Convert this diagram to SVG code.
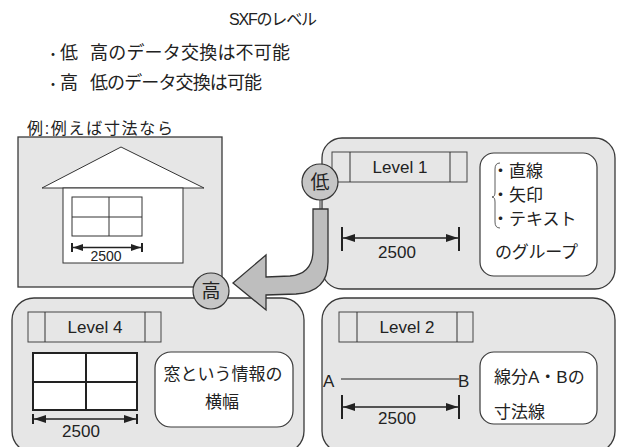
<svg xmlns="http://www.w3.org/2000/svg" width="621" height="447" viewBox="0 0 621 447">
  <style>
    text { font-family: "Liberation Sans", "Noto Sans CJK JP", sans-serif; fill: #222; }
    .panel { fill: #e6e6e6; stroke: #3a3a3a; stroke-width: 1.3; }
    .bar { fill: #e6e6e6; stroke: #444; stroke-width: 1; }
    .note { fill: #fff; stroke: #3a3a3a; stroke-width: 1.2; }
    .thin { fill: none; stroke: #333; stroke-width: 1; }
    .dim { stroke: #222; stroke-width: 1.3; fill: none; }
    .tick { stroke: #222; stroke-width: 2; }
    .badge { fill: #c6c6c6; stroke: #333; stroke-width: 1.2; }
    .lbl { font-size: 17px; text-anchor: middle; }
    .num { font-size: 17px; text-anchor: middle; }
    .jp { font-size: 17px; }
  </style>
  <defs>
    <marker id="tip" viewBox="0 0 12 8" refX="12" refY="4" markerWidth="12" markerHeight="8" markerUnits="userSpaceOnUse" orient="auto-start-reverse">
      <path d="M0,0 L12,4 L0,8 z" fill="#222"/>
    </marker>
    <marker id="tipS" viewBox="0 0 10 7" refX="10" refY="3.5" markerWidth="10" markerHeight="7" markerUnits="userSpaceOnUse" orient="auto-start-reverse">
      <path d="M0,0 L10,3.5 L0,7 z" fill="#222"/>
    </marker>
  </defs>

  <!-- heading and notes -->
  <g id="heading">
    <text x="229" y="25" font-size="16" textLength="88">SXFのレベル</text>
    <text x="46" y="59" font-size="14">・</text>
    <text x="60" y="59" font-size="18">低</text>
    <text x="90" y="59" font-size="18" textLength="200">高のデータ交換は不可能</text>
    <text x="46" y="89" font-size="14">・</text>
    <text x="60" y="89" font-size="18">高</text>
    <text x="90" y="89" font-size="18" textLength="172">低のデータ交換は可能</text>
    <text x="27" y="134" font-size="16" textLength="146">例:例えば寸法なら</text>
  </g>

  <!-- example: house with a window -->
  <g id="house">
    <rect class="panel" x="18" y="137" width="204" height="150"/>
    <polygon points="121,147 42,188 204,188" fill="#fff" stroke="#333" stroke-width="1"/>
    <rect x="63" y="188" width="120" height="75" fill="#fff" stroke="#333" stroke-width="1"/>
    <rect x="72" y="197" width="70" height="39" fill="#fff" stroke="#333" stroke-width="1"/>
    <line class="thin" x1="109" y1="197" x2="109" y2="236"/>
    <line class="thin" x1="72" y1="217" x2="142" y2="217"/>
    <line class="tick" x1="72" y1="243" x2="72" y2="252"/>
    <line class="tick" x1="142" y1="243" x2="142" y2="252"/>
    <line class="dim" x1="73" y1="247.5" x2="141" y2="247.5" marker-start="url(#tipS)" marker-end="url(#tipS)"/>
    <text x="106" y="261" font-size="14" text-anchor="middle">2500</text>
  </g>

  <!-- Level 1 -->
  <g id="level1">
    <rect class="panel" x="322" y="138" width="293" height="151" rx="20"/>
    <rect class="bar" x="332" y="152" width="135" height="30"/>
    <line class="thin" x1="350" y1="152" x2="350" y2="182"/>
    <line class="thin" x1="450" y1="152" x2="450" y2="182"/>
    <text class="lbl" x="400" y="173">Level 1</text>
    <line class="tick" x1="342" y1="227" x2="342" y2="251"/>
    <line class="tick" x1="459" y1="227" x2="459" y2="251"/>
    <line class="dim" x1="343" y1="238" x2="458" y2="238" marker-start="url(#tip)" marker-end="url(#tip)"/>
    <text class="num" x="397" y="258">2500</text>
    <rect class="note" x="480" y="153" width="117" height="123" rx="14"/>
    <path d="M500,163 Q495,163 495,169 L495,192 Q495,197 492,197 Q495,197 495,202 L495,222 Q495,228 500,228" fill="none" stroke="#333" stroke-width="0.8"/>
    <text class="jp" x="492" y="177">・直線</text>
    <text class="jp" x="492" y="201">・矢印</text>
    <text class="jp" x="492" y="225">・テキスト</text>
    <text class="jp" x="495" y="258" textLength="83">のグループ</text>
  </g>

  <!-- Level 4 -->
  <g id="level4">
    <rect class="panel" x="12" y="298" width="292" height="155" rx="22"/>
    <rect class="bar" x="28" y="312" width="133" height="30"/>
    <line class="thin" x1="45" y1="312" x2="45" y2="342"/>
    <line class="thin" x1="145" y1="312" x2="145" y2="342"/>
    <text class="lbl" x="95" y="333">Level 4</text>
    <rect x="33" y="353" width="104" height="57" fill="#fff" stroke="#222" stroke-width="2"/>
    <line x1="86" y1="353" x2="86" y2="410" stroke="#222" stroke-width="2"/>
    <line x1="33" y1="382" x2="137" y2="382" stroke="#222" stroke-width="2"/>
    <line class="tick" x1="33" y1="414" x2="33" y2="424"/>
    <line class="tick" x1="137" y1="414" x2="137" y2="424"/>
    <line class="dim" x1="34" y1="419" x2="136" y2="419" marker-start="url(#tip)" marker-end="url(#tip)"/>
    <text class="num" x="81" y="437">2500</text>
    <rect class="note" x="155" y="352" width="138" height="75" rx="16"/>
    <text class="jp" x="223" y="380" text-anchor="middle">窓という情報の</text>
    <text class="jp" x="222" y="408" text-anchor="middle">横幅</text>
  </g>

  <!-- Level 2 -->
  <g id="level2">
    <rect class="panel" x="322" y="298" width="293" height="155" rx="22"/>
    <rect class="bar" x="339" y="312" width="134" height="30"/>
    <line class="thin" x1="357" y1="312" x2="357" y2="342"/>
    <line class="thin" x1="457" y1="312" x2="457" y2="342"/>
    <text class="lbl" x="407" y="333">Level 2</text>
    <text class="jp" x="323" y="387">A</text>
    <text class="jp" x="458" y="387">B</text>
    <line x1="341" y1="379" x2="459" y2="379" stroke="#222" stroke-width="1.2"/>
    <line class="tick" x1="342" y1="395" x2="342" y2="419"/>
    <line class="tick" x1="459" y1="395" x2="459" y2="419"/>
    <line class="dim" x1="343" y1="407" x2="458" y2="407" marker-start="url(#tip)" marker-end="url(#tip)"/>
    <text class="num" x="397" y="424">2500</text>
    <rect class="note" x="480" y="352" width="117" height="72" rx="14"/>
    <text class="jp" x="494" y="383">線分A・Bの</text>
    <text class="jp" x="494" y="418">寸法線</text>
  </g>

  <!-- flow from low level to high level -->
  <g id="connectors">
    <line x1="320" y1="200" x2="320" y2="209" stroke="#333" stroke-width="1"/>
    <path d="M313,209 L328,209 L328,262 Q328,292 296,294 L266,295 L266,310 L233,283 L266,255 L266,277 L290,276 Q313,274 313,250 Z" fill="#bebebe" stroke="#333" stroke-width="1.3" stroke-linejoin="miter"/>
  </g>

  <g id="low">
    <circle class="badge" cx="320" cy="182" r="18"/>
    <text x="320" y="189" font-size="19" text-anchor="middle">低</text>
  </g>
  <g id="high">
    <circle class="badge" cx="211" cy="291" r="18"/>
    <text x="211" y="298" font-size="19" text-anchor="middle">高</text>
  </g>
</svg>
